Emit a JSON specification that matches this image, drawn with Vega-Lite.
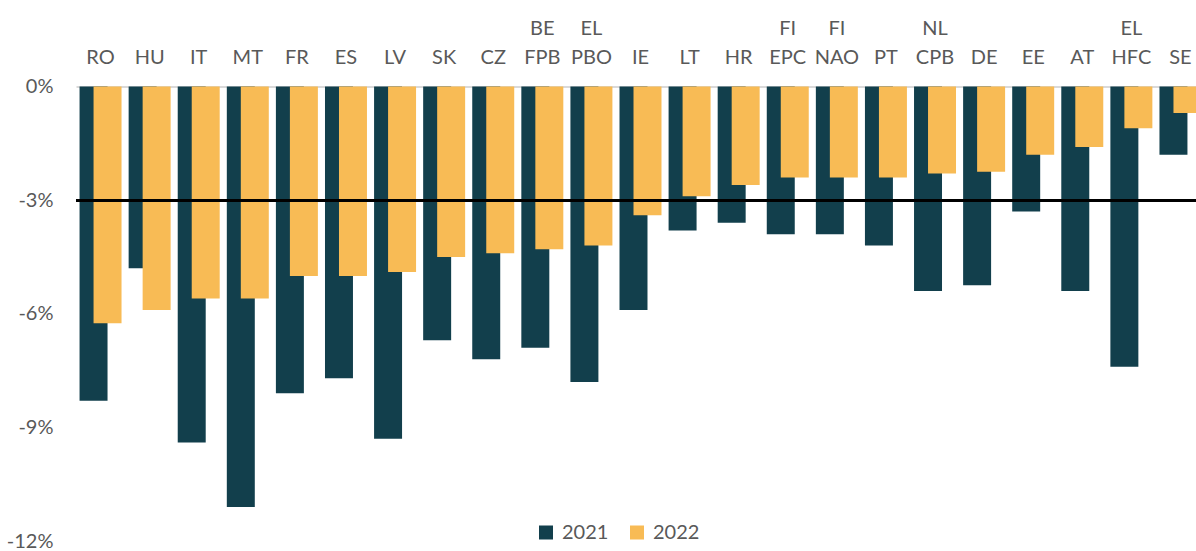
{
  "$schema": "https://vega.github.io/schema/vega-lite/v6.json",
  "autosize": "none",
  "width": 1129,
  "height": 454.5,
  "padding": {"left": 76, "top": 86.5, "right": 0, "bottom": 10},
  "background": "white",
  "config": {
    "view": {"stroke": null},
    "font": "Lato",
    "axis": {"labelFont": "Lato", "labelColor": "#595959", "labelFontSize": 20},
    "legend": {"labelFont": "Lato", "labelColor": "#595959", "labelFontSize": 20}
  },
  "data": {
    "values": [
      {"cat": "RO", "year": "2021", "value": -8.3}, {"cat": "RO", "year": "2022", "value": -6.25},
      {"cat": "HU", "year": "2021", "value": -4.8}, {"cat": "HU", "year": "2022", "value": -5.9},
      {"cat": "IT", "year": "2021", "value": -9.4}, {"cat": "IT", "year": "2022", "value": -5.6},
      {"cat": "MT", "year": "2021", "value": -11.1}, {"cat": "MT", "year": "2022", "value": -5.6},
      {"cat": "FR", "year": "2021", "value": -8.1}, {"cat": "FR", "year": "2022", "value": -5.0},
      {"cat": "ES", "year": "2021", "value": -7.7}, {"cat": "ES", "year": "2022", "value": -5.0},
      {"cat": "LV", "year": "2021", "value": -9.3}, {"cat": "LV", "year": "2022", "value": -4.9},
      {"cat": "SK", "year": "2021", "value": -6.7}, {"cat": "SK", "year": "2022", "value": -4.5},
      {"cat": "CZ", "year": "2021", "value": -7.2}, {"cat": "CZ", "year": "2022", "value": -4.4},
      {"cat": "BE FPB", "year": "2021", "value": -6.9}, {"cat": "BE FPB", "year": "2022", "value": -4.3},
      {"cat": "EL PBO", "year": "2021", "value": -7.8}, {"cat": "EL PBO", "year": "2022", "value": -4.2},
      {"cat": "IE", "year": "2021", "value": -5.9}, {"cat": "IE", "year": "2022", "value": -3.4},
      {"cat": "LT", "year": "2021", "value": -3.8}, {"cat": "LT", "year": "2022", "value": -2.9},
      {"cat": "HR", "year": "2021", "value": -3.6}, {"cat": "HR", "year": "2022", "value": -2.6},
      {"cat": "FI EPC", "year": "2021", "value": -3.9}, {"cat": "FI EPC", "year": "2022", "value": -2.4},
      {"cat": "FI NAO", "year": "2021", "value": -3.9}, {"cat": "FI NAO", "year": "2022", "value": -2.4},
      {"cat": "PT", "year": "2021", "value": -4.2}, {"cat": "PT", "year": "2022", "value": -2.4},
      {"cat": "NL CPB", "year": "2021", "value": -5.4}, {"cat": "NL CPB", "year": "2022", "value": -2.3},
      {"cat": "DE", "year": "2021", "value": -5.25}, {"cat": "DE", "year": "2022", "value": -2.25},
      {"cat": "EE", "year": "2021", "value": -3.3}, {"cat": "EE", "year": "2022", "value": -1.8},
      {"cat": "AT", "year": "2021", "value": -5.4}, {"cat": "AT", "year": "2022", "value": -1.6},
      {"cat": "EL HFC", "year": "2021", "value": -7.4}, {"cat": "EL HFC", "year": "2022", "value": -1.1},
      {"cat": "SE", "year": "2021", "value": -1.8}, {"cat": "SE", "year": "2022", "value": -0.7}
    ]
  },
  "encoding": {
    "x": {
      "field": "cat", "type": "nominal", "sort": null,
      "scale": {"paddingInner": 0, "paddingOuter": 0},
      "axis": {
        "orient": "top", "title": null, "labelAngle": 0, "ticks": false,
        "domain": true, "domainColor": "#d9d9d9", "domainWidth": 2,
        "labelBaseline": "alphabetic", "labelPadding": 52, "labelLineHeight": 28.5,
        "labelExpr": "length(split(datum.label, ' ')) > 1 ? split(datum.label, ' ') : ['', datum.label]"
      }
    },
    "y": {
      "field": "value", "type": "quantitative",
      "scale": {"domain": [-12, 0], "nice": false},
      "axis": {
        "title": null, "values": [0, -3, -6, -9, -12], "grid": false,
        "ticks": false, "domain": false, "labelPadding": 23,
        "labelExpr": "datum.value + '%'"
      }
    },
    "color": {
      "field": "year", "type": "nominal",
      "scale": {"domain": ["2021", "2022"], "range": ["#123f4c", "#f8bb55"]},
      "legend": {
        "title": null, "orient": "none", "direction": "horizontal",
        "legendX": 460, "legendY": 436, "symbolType": "square", "symbolSize": 196,
        "symbolStrokeWidth": 0, "labelOffset": 6, "columnPadding": 18
      }
    }
  },
  "layer": [
    {
      "transform": [{"filter": "datum.year == '2021'"}],
      "mark": {"type": "bar", "width": {"band": 0.57}, "xOffset": -7}
    },
    {
      "transform": [{"filter": "datum.year == '2022'"}],
      "mark": {"type": "bar", "width": {"band": 0.57}, "xOffset": 7}
    },
    {
      "mark": {"type": "rule", "color": "black", "strokeWidth": 2},
      "encoding": {"y": {"datum": -3}, "x": null, "color": null}
    }
  ]
}
